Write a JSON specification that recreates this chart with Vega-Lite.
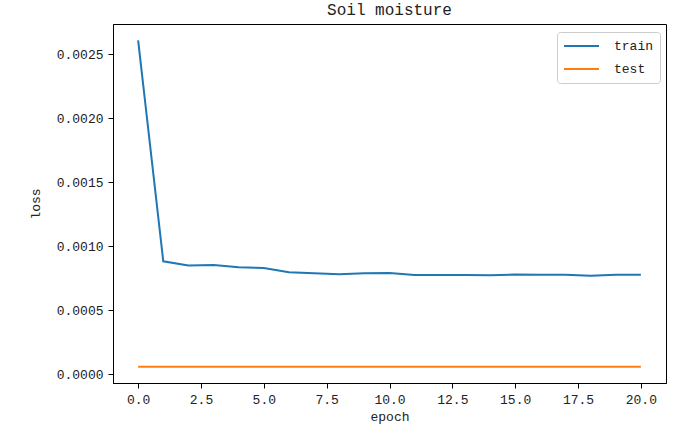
{
  "$schema": "https://vega.github.io/schema/vega-lite/v6.json",
  "autosize": "none",
  "width": 553,
  "height": 359,
  "padding": {"left": 113, "top": 24, "right": 28, "bottom": 58},
  "background": "white",
  "config": {
    "font": "Liberation Mono",
    "view": {"stroke": "black", "strokeWidth": 1},
    "axis": {"grid": false, "domainColor": "black", "tickColor": "black", "tickSize": 5, "labelColor": "#222", "titleColor": "#222", "labelFont": "Liberation Mono", "titleFont": "Liberation Mono", "labelFontSize": 13, "titleFontSize": 13, "titleFontWeight": "normal"}
  },
  "title": {"text": "Soil moisture", "font": "Liberation Mono", "fontSize": 16, "fontWeight": "normal", "color": "#222", "offset": 6},
  "data": {"values": [
    {"epoch": 0, "loss": 0.002609, "series": "train"},
    {"epoch": 1, "loss": 0.000883, "series": "train"},
    {"epoch": 2, "loss": 0.000850, "series": "train"},
    {"epoch": 3, "loss": 0.000853, "series": "train"},
    {"epoch": 4, "loss": 0.000837, "series": "train"},
    {"epoch": 5, "loss": 0.000831, "series": "train"},
    {"epoch": 6, "loss": 0.000798, "series": "train"},
    {"epoch": 7, "loss": 0.000790, "series": "train"},
    {"epoch": 8, "loss": 0.000781, "series": "train"},
    {"epoch": 9, "loss": 0.000789, "series": "train"},
    {"epoch": 10, "loss": 0.000792, "series": "train"},
    {"epoch": 11, "loss": 0.000776, "series": "train"},
    {"epoch": 12, "loss": 0.000776, "series": "train"},
    {"epoch": 13, "loss": 0.000775, "series": "train"},
    {"epoch": 14, "loss": 0.000773, "series": "train"},
    {"epoch": 15, "loss": 0.000779, "series": "train"},
    {"epoch": 16, "loss": 0.000778, "series": "train"},
    {"epoch": 17, "loss": 0.000778, "series": "train"},
    {"epoch": 18, "loss": 0.000769, "series": "train"},
    {"epoch": 19, "loss": 0.000778, "series": "train"},
    {"epoch": 20, "loss": 0.000778, "series": "train"},
    {"epoch": 0, "loss": 0.0000594, "series": "test"},
    {"epoch": 1, "loss": 0.0000594, "series": "test"},
    {"epoch": 2, "loss": 0.0000594, "series": "test"},
    {"epoch": 3, "loss": 0.0000594, "series": "test"},
    {"epoch": 4, "loss": 0.0000594, "series": "test"},
    {"epoch": 5, "loss": 0.0000594, "series": "test"},
    {"epoch": 6, "loss": 0.0000594, "series": "test"},
    {"epoch": 7, "loss": 0.0000594, "series": "test"},
    {"epoch": 8, "loss": 0.0000594, "series": "test"},
    {"epoch": 9, "loss": 0.0000594, "series": "test"},
    {"epoch": 10, "loss": 0.0000594, "series": "test"},
    {"epoch": 11, "loss": 0.0000594, "series": "test"},
    {"epoch": 12, "loss": 0.0000594, "series": "test"},
    {"epoch": 13, "loss": 0.0000594, "series": "test"},
    {"epoch": 14, "loss": 0.0000594, "series": "test"},
    {"epoch": 15, "loss": 0.0000594, "series": "test"},
    {"epoch": 16, "loss": 0.0000594, "series": "test"},
    {"epoch": 17, "loss": 0.0000594, "series": "test"},
    {"epoch": 18, "loss": 0.0000594, "series": "test"},
    {"epoch": 19, "loss": 0.0000594, "series": "test"},
    {"epoch": 20, "loss": 0.0000594, "series": "test"}
  ]},
  "mark": {"type": "line", "strokeWidth": 2},
  "encoding": {
    "x": {"field": "epoch", "type": "quantitative", "scale": {"domain": [-1, 21], "nice": false, "zero": false},
      "axis": {"values": [0, 2.5, 5, 7.5, 10, 12.5, 15, 17.5, 20], "format": ".1f", "title": "epoch", "labelPadding": 5, "titlePadding": 4}},
    "y": {"field": "loss", "type": "quantitative", "scale": {"domain": [-0.0000681, 0.002737], "nice": false, "zero": false},
      "axis": {"values": [0, 0.0005, 0.001, 0.0015, 0.002, 0.0025], "format": ".4f", "title": "loss", "labelPadding": 5, "titlePadding": 14}},
    "color": {"field": "series", "type": "nominal", "scale": {"domain": ["train", "test"], "range": ["#1f77b4", "#ff7f0e"]},
      "legend": {"title": null, "orient": "none", "legendX": 444, "legendY": 8, "padding": 6, "strokeColor": "#cccccc", "cornerRadius": 3, "fillColor": "white",
        "symbolType": "stroke", "symbolSize": 1225, "symbolStrokeWidth": 2, "clipHeight": 16, "labelFont": "Liberation Mono", "labelFontSize": 13, "labelColor": "#222", "labelOffset": 14, "rowPadding": 7}}
  }
}
